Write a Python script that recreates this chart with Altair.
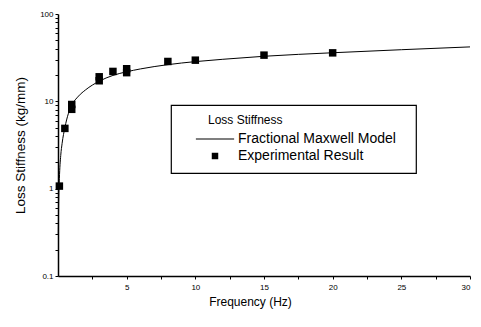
import altair as alt
import pandas as pd

# Experimental points (Hz, kg/mm)
exp_freq = [0.1, 0.5, 1, 1, 3, 3, 4, 5, 5, 8, 10, 15, 20]
exp_val = [1.07, 4.9, 8.1, 9.2, 17.2, 19.1, 22.0, 21.3, 23.6, 28.6, 29.6, 33.8, 35.9]

# Fractional Maxwell model curve
fit_freq = [0.02, 0.05, 0.1, 0.2, 0.3, 0.5, 0.75, 1, 1.5, 2, 3, 4, 5, 6, 8, 10, 12, 15, 20, 25, 30]
fit_val = [0.3, 0.72, 1.3, 2.4, 3.3, 5.0, 7.2, 9.0, 11.5, 13.5, 17.0, 19.8, 21.8, 23.5, 26.3, 28.5, 30.3, 32.8, 36.0, 39.0, 42.0]

series_names = ["Fractional Maxwell Model", "Experimental Result"]
legend_title = "\u2800\u2800\u2800Loss Stiffness"
x_ticks = [2.5, 5, 7.5, 10, 12.5, 15, 17.5, 20, 22.5, 25, 27.5, 30]
y_ticks = [m * d for d in [0.1, 1, 10] for m in range(1, 10)] + [100]

exp_df = pd.DataFrame({"f": exp_freq, "v": exp_val, "series": series_names[1]})
fit_df = pd.DataFrame({"f": fit_freq, "v": fit_val})

x_enc = alt.X("f:Q", scale=alt.Scale(domain=[0, 30], nice=False, zero=False),
              axis=alt.Axis(title="Frequency (Hz)", values=x_ticks, titleX=192,
                            labelExpr="datum.value % 5 == 0 ? datum.label : ''"))
y_enc = alt.Y("v:Q", scale=alt.Scale(type="log", domain=[0.1, 100], nice=False),
              axis=alt.Axis(title="Loss Stiffness (kg/mm)", values=y_ticks,
                            labelExpr="indexof([0.1,1,10,100], datum.value) >= 0 ? datum.label : ''",
                            format="~g"))

line = alt.Chart(fit_df).mark_line(color="black", strokeWidth=1, interpolate="monotone").encode(
    x=x_enc, y=y_enc)

leg = alt.Legend(title=legend_title, labelExpr="datum.label + '\u2800'", labelLimit=260)
pts = alt.Chart(exp_df).mark_point(filled=True, opacity=1, shape="square", size=56).encode(
    x=x_enc, y=y_enc,
    color=alt.Color("series:N", scale=alt.Scale(domain=series_names, range=["black", "black"]),
                    legend=leg),
    shape=alt.Shape("series:N", scale=alt.Scale(domain=series_names,
                                                range=["M-5.9,-0.16H5.9V0.16H-5.9Z", "square"]),
                    legend=leg),
)

chart = alt.layer(line, pts).properties(
    width=412, height=262,
    padding={"left": 50, "top": 6, "right": 3, "bottom": 35},
    autosize=alt.AutoSizeParams(type="none"),
).configure(
    font="Liberation Sans",
).configure_view(stroke=None).configure_axis(
    domainColor="black", domainWidth=1.5, tickColor="black", tickSize=3,
    labelColor="black", titleColor="black", labelFontSize=8, titleFontSize=12,
    titleFontWeight="normal", grid=False,
).configure_axisX(labelPadding=4, titlePadding=5).configure_axisY(
    titlePadding=12, labelPadding=2, titleFontSize=13.5
).configure_legend(
    orient="none", legendX=113, legendY=91, padding=10, strokeColor="black", strokeWidth=1.2,
    fillColor="white", titleFontSize=12, titleFontWeight="normal", labelFontSize=14,
    titleColor="black", labelColor="black", symbolOffset=27, labelOffset=16, labelLimit=260,
    symbolSize=42, rowPadding=3, titlePadding=5, symbolFillColor="black",
)

chart.save("out.html", embed_options={"renderer": "svg", "actions": False})
